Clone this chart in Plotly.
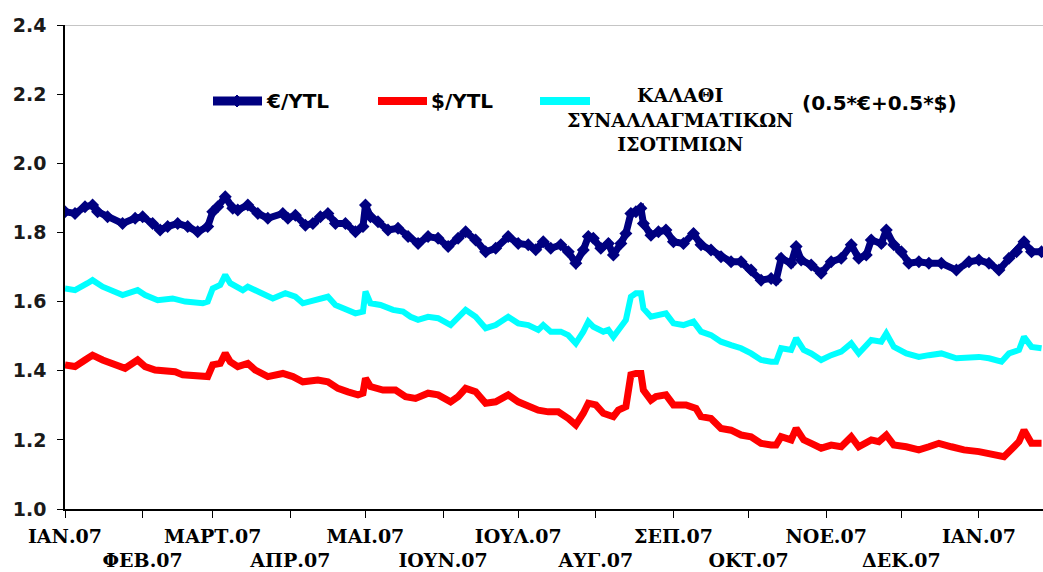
import plotly.graph_objects as go

# ---------------- data ----------------
eur_dates = ["2007-01-01","2007-01-05","2007-01-09","2007-01-12","2007-01-14","2007-01-18","2007-01-24","2007-01-29",
 "2007-02-01","2007-02-05","2007-02-08","2007-02-11","2007-02-15","2007-02-19","2007-02-23","2007-02-27",
 "2007-03-01","2007-03-03","2007-03-06","2007-03-09","2007-03-11","2007-03-15","2007-03-19","2007-03-23","2007-03-29","2007-03-31",
 "2007-04-03","2007-04-07","2007-04-10","2007-04-13","2007-04-16","2007-04-19","2007-04-23","2007-04-27","2007-04-30",
 "2007-05-01","2007-05-03","2007-05-06","2007-05-10","2007-05-14","2007-05-18","2007-05-22","2007-05-26","2007-05-30",
 "2007-06-03","2007-06-07","2007-06-10","2007-06-14","2007-06-18","2007-06-22","2007-06-27",
 "2007-07-01","2007-07-05","2007-07-08","2007-07-11","2007-07-14","2007-07-18","2007-07-21","2007-07-24","2007-07-27","2007-07-29","2007-07-31",
 "2007-08-03","2007-08-06","2007-08-08","2007-08-11","2007-08-13","2007-08-15","2007-08-17","2007-08-19","2007-08-20","2007-08-23","2007-08-26","2007-08-29",
 "2007-09-01","2007-09-05","2007-09-09","2007-09-12","2007-09-16","2007-09-20","2007-09-24","2007-09-28",
 "2007-10-02","2007-10-06","2007-10-10","2007-10-12","2007-10-14","2007-10-18","2007-10-20","2007-10-22","2007-10-26","2007-10-30",
 "2007-11-03","2007-11-07","2007-11-11","2007-11-14","2007-11-17","2007-11-19","2007-11-23","2007-11-25","2007-11-28",
 "2007-12-01","2007-12-04","2007-12-08","2007-12-12","2007-12-17","2007-12-23","2007-12-28",
 "2008-01-01","2008-01-05","2008-01-09","2008-01-13","2008-01-16","2008-01-19","2008-01-22","2008-01-26"]
eur_values = [1.860,1.855,1.874,1.879,1.860,1.845,1.826,1.841,
 1.845,1.826,1.807,1.817,1.826,1.817,1.802,1.817,
 1.860,1.874,1.903,1.870,1.865,1.879,1.855,1.841,1.855,1.841,
 1.850,1.821,1.826,1.845,1.855,1.826,1.826,1.802,1.817,
 1.879,1.845,1.831,1.807,1.812,1.788,1.768,1.788,1.783,
 1.759,1.783,1.802,1.778,1.744,1.754,1.788,
 1.768,1.764,1.750,1.773,1.754,1.764,1.744,1.711,1.749,1.788,1.783,
 1.754,1.768,1.735,1.768,1.797,1.855,1.860,1.870,1.826,1.792,1.802,1.807,
 1.773,1.768,1.797,1.764,1.749,1.730,1.715,1.715,
 1.691,1.662,1.667,1.662,1.725,1.711,1.759,1.720,1.706,1.682,
 1.715,1.725,1.764,1.725,1.735,1.778,1.768,1.807,1.764,
 1.744,1.711,1.715,1.711,1.711,1.691,1.715,
 1.720,1.711,1.691,1.725,1.744,1.773,1.744,1.744]

usd_dates = ["2007-01-01","2007-01-05","2007-01-09","2007-01-12","2007-01-16","2007-01-20","2007-01-25","2007-01-30",
 "2007-02-02","2007-02-06","2007-02-11","2007-02-14","2007-02-17","2007-02-22","2007-02-27",
 "2007-03-01","2007-03-04","2007-03-06","2007-03-08","2007-03-11","2007-03-15","2007-03-18","2007-03-23","2007-03-29",
 "2007-04-02","2007-04-06","2007-04-12","2007-04-16","2007-04-20","2007-04-24","2007-04-28","2007-04-30",
 "2007-05-01","2007-05-03","2007-05-08","2007-05-13","2007-05-17","2007-05-21","2007-05-26","2007-05-30",
 "2007-06-04","2007-06-07","2007-06-10","2007-06-14","2007-06-18","2007-06-22","2007-06-27",
 "2007-07-01","2007-07-05","2007-07-09","2007-07-13","2007-07-17","2007-07-21","2007-07-24","2007-07-27","2007-07-29",
 "2007-08-01","2007-08-04","2007-08-08","2007-08-10","2007-08-13","2007-08-15","2007-08-17","2007-08-19","2007-08-20","2007-08-23","2007-08-25","2007-08-29",
 "2007-09-01","2007-09-06","2007-09-10","2007-09-12","2007-09-16","2007-09-20","2007-09-24","2007-09-28",
 "2007-10-02","2007-10-06","2007-10-10","2007-10-12","2007-10-14","2007-10-18","2007-10-20","2007-10-23","2007-10-26","2007-10-30",
 "2007-11-03","2007-11-07","2007-11-11","2007-11-14","2007-11-19","2007-11-22","2007-11-25","2007-11-28",
 "2007-12-03","2007-12-08","2007-12-12","2007-12-16","2007-12-21","2007-12-26",
 "2008-01-01","2008-01-06","2008-01-11","2008-01-15","2008-01-17","2008-01-19","2008-01-22","2008-01-26"]
usd_values = [1.417,1.412,1.431,1.445,1.431,1.421,1.407,1.431,
 1.412,1.402,1.402,1.397,1.388,1.383,1.383,
 1.417,1.421,1.450,1.426,1.412,1.421,1.402,1.383,1.392,
 1.383,1.368,1.373,1.368,1.349,1.339,1.330,1.335,
 1.378,1.354,1.344,1.344,1.325,1.320,1.335,1.330,
 1.310,1.325,1.349,1.339,1.306,1.310,1.330,
 1.310,1.296,1.286,1.281,1.281,1.262,1.243,1.277,1.306,
 1.301,1.277,1.267,1.286,1.296,1.388,1.392,1.392,1.344,1.315,1.325,1.330,
 1.301,1.301,1.291,1.267,1.262,1.233,1.228,1.214,
 1.209,1.190,1.185,1.185,1.209,1.200,1.233,1.200,1.190,1.176,
 1.185,1.180,1.209,1.180,1.200,1.195,1.214,1.185,
 1.180,1.171,1.180,1.190,1.180,1.171,
 1.166,1.161,1.151,1.180,1.195,1.228,1.190,1.190]

basket_dates = ["2007-01-01","2007-01-05","2007-01-10","2007-01-12","2007-01-16","2007-01-20","2007-01-24","2007-01-30",
 "2007-02-02","2007-02-07","2007-02-13","2007-02-18","2007-02-25","2007-02-27",
 "2007-03-01","2007-03-04","2007-03-06","2007-03-08","2007-03-13","2007-03-15","2007-03-19","2007-03-25","2007-03-30",
 "2007-04-03","2007-04-06","2007-04-11","2007-04-16","2007-04-19","2007-04-23","2007-04-27","2007-04-30",
 "2007-05-01","2007-05-03","2007-05-07","2007-05-12","2007-05-16","2007-05-19","2007-05-22","2007-05-26","2007-05-30",
 "2007-06-04","2007-06-07","2007-06-10","2007-06-14","2007-06-18","2007-06-22","2007-06-27",
 "2007-07-01","2007-07-05","2007-07-09","2007-07-11","2007-07-14","2007-07-18","2007-07-21","2007-07-24","2007-07-27","2007-07-29","2007-07-31",
 "2007-08-04","2007-08-06","2007-08-08","2007-08-11","2007-08-13","2007-08-15","2007-08-17","2007-08-19","2007-08-20","2007-08-23","2007-08-26","2007-08-29",
 "2007-09-01","2007-09-05","2007-09-09","2007-09-12","2007-09-16","2007-09-20","2007-09-24","2007-09-28",
 "2007-10-02","2007-10-06","2007-10-10","2007-10-12","2007-10-14","2007-10-18","2007-10-20","2007-10-23","2007-10-26","2007-10-30",
 "2007-11-03","2007-11-07","2007-11-11","2007-11-14","2007-11-19","2007-11-23","2007-11-25","2007-11-28",
 "2007-12-03","2007-12-08","2007-12-12","2007-12-17","2007-12-23","2007-12-28",
 "2008-01-01","2008-01-05","2008-01-10","2008-01-13","2008-01-17","2008-01-19","2008-01-22","2008-01-26"]
basket_values = [1.638,1.633,1.653,1.662,1.643,1.633,1.619,1.633,
 1.619,1.604,1.609,1.600,1.595,1.600,
 1.638,1.648,1.677,1.653,1.633,1.643,1.629,1.609,1.624,
 1.614,1.595,1.604,1.614,1.590,1.580,1.566,1.571,
 1.629,1.595,1.590,1.576,1.571,1.556,1.547,1.556,1.552,
 1.532,1.552,1.576,1.556,1.523,1.532,1.556,
 1.537,1.532,1.518,1.532,1.513,1.513,1.503,1.479,1.513,1.542,1.527,
 1.513,1.518,1.498,1.527,1.547,1.614,1.624,1.624,1.580,1.556,1.561,1.566,
 1.537,1.532,1.542,1.513,1.503,1.484,1.474,1.465,
 1.450,1.431,1.426,1.426,1.465,1.460,1.494,1.460,1.450,1.431,
 1.445,1.455,1.479,1.450,1.489,1.484,1.508,1.469,
 1.450,1.440,1.445,1.450,1.436,1.440,
 1.440,1.436,1.426,1.450,1.460,1.498,1.469,1.465]

month_ticks = ["2007-01-01","2007-02-01","2007-03-01","2007-04-01","2007-05-01","2007-06-01","2007-07-01",
               "2007-08-01","2007-09-01","2007-10-01","2007-11-01","2007-12-01","2008-01-01"]
month_labels = ["ΙΑΝ.07","ΦΕΒ.07","ΜΑΡΤ.07","ΑΠΡ.07","ΜΑΙ.07","ΙΟΥΝ.07","ΙΟΥΛ.07",
                "ΑΥΓ.07","ΣΕΠ.07","ΟΚΤ.07","ΝΟΕ.07","ΔΕΚ.07","ΙΑΝ.07"]

name_eur = "€/YTL"
name_usd = "$/YTL"
name_basket = "ΚΑΛΑΘΙ<br>ΣΥΝΑΛΛΑΓΜΑΤΙΚΩΝ<br>ΙΣΟΤΙΜΙΩΝ"
basket_formula = "(0.5*€+0.5*$)"

# ---------------- styles ----------------
NAVY = "#000080"
RED = "#FF0000"
CYAN = "#00FFFF"
SANS = "DejaVu Sans"
SERIF = "DejaVu Serif"

fig = go.Figure()
fig.add_trace(go.Scatter(x=basket_dates, y=basket_values, mode="lines", name="basket",
                         line=dict(color=CYAN, width=6), showlegend=False))
fig.add_trace(go.Scatter(x=usd_dates, y=usd_values, mode="lines", name=name_usd,
                         line=dict(color=RED, width=7), showlegend=False))
fig.add_trace(go.Scatter(x=eur_dates, y=eur_values, mode="lines+markers", name=name_eur,
                         line=dict(color=NAVY, width=7),
                         marker=dict(symbol="diamond", size=10, color=NAVY),
                         showlegend=False))

tick_text = [lab if i % 2 == 0 else "<br>" + lab for i, lab in enumerate(month_labels)]

fig.update_layout(
    width=1043, height=572,
    margin=dict(l=65, r=0, t=25, b=63, autoexpand=False),
    paper_bgcolor="white", plot_bgcolor="white",
    showlegend=False,
    xaxis=dict(type="date", range=["2007-01-01", "2008-01-26 14:00"],
               tickmode="array", tickvals=month_ticks, ticktext=tick_text, tickangle=0,
               automargin=False, ticklabelstandoff=2,
               ticks="outside", ticklen=7, tickcolor="black", tickwidth=1,
               showline=True, linecolor="black", linewidth=1.5,
               showgrid=False, zeroline=False,
               tickfont=dict(family=SERIF, size=19, color="black", weight="bold")),
    yaxis=dict(range=[1.0, 2.4], tickmode="linear", tick0=1.0, dtick=0.2, tickformat=".1f",
               automargin=False, ticklabelstandoff=7,
               ticks="outside", ticklen=6, tickcolor="black", tickwidth=1,
               showline=True, linecolor="black", linewidth=1.5,
               showgrid=False, zeroline=False,
               tickfont=dict(family=SANS, size=19, color="#1a1a1a", weight="bold")),
)

# top border of plot area
fig.add_shape(type="line", xref="paper", yref="y", x0=0, x1=1, y0=2.4, y1=2.4,
              line=dict(color="#8c8c8c", width=1))

# ---------------- legend (drawn in paper coords) ----------------
def px_x(px):
    return (px - 65) / 978.0

def px_y(py):
    return (509 - py) / 484.0

ly = px_y(101)
for x0, x1, col, w in [(213, 262, NAVY, 9), (378, 427, RED, 8), (540, 590, CYAN, 8)]:
    fig.add_shape(type="line", xref="paper", yref="paper", x0=px_x(x0), x1=px_x(x1), y0=ly, y1=ly,
                  line=dict(color=col, width=w))
fig.add_shape(type="path", xref="paper", yref="paper", xsizemode="pixel", ysizemode="pixel",
              xanchor=px_x(237), yanchor=ly, path="M -6 0 L 0 6 L 6 0 L 0 -6 Z",
              fillcolor=NAVY, line=dict(color=NAVY, width=1))

fig.add_annotation(x=px_x(264), y=ly, xref="paper", yref="paper", xanchor="left", yanchor="middle",
                   text=name_eur, showarrow=False,
                   font=dict(family=SANS, size=20, color="black", weight="bold"))
fig.add_annotation(x=px_x(429), y=ly, xref="paper", yref="paper", xanchor="left", yanchor="middle",
                   text=name_usd, showarrow=False,
                   font=dict(family=SANS, size=20, color="black", weight="bold"))
fig.add_annotation(x=px_x(680), y=px_y(82), xref="paper", yref="paper", xanchor="center", yanchor="top",
                   text=name_basket, showarrow=False, align="center",
                   font=dict(family=SERIF, size=19, color="black", weight="bold"))
fig.add_annotation(x=px_x(800), y=px_y(103), xref="paper", yref="paper", xanchor="left", yanchor="middle",
                   text=basket_formula, showarrow=False,
                   font=dict(family=SANS, size=20, color="black", weight="bold"))

fig.write_html("out.html", post_script="document.body.style.margin='0px';",
               config={"displayModeBar": False})
